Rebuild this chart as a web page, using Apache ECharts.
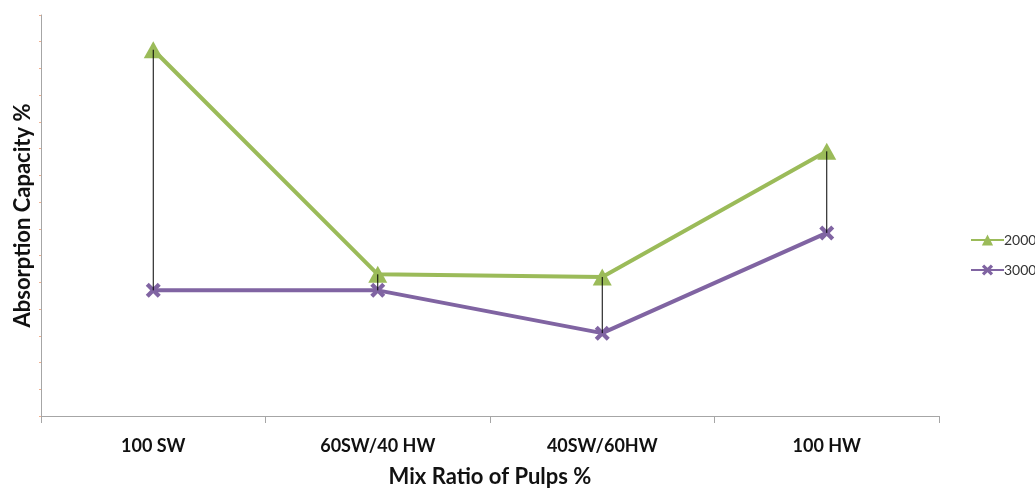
<!DOCTYPE html>
<html><head><meta charset="utf-8">
<script src="https://cdn.jsdelivr.net/npm/echarts@6/dist/echarts.min.js"></script>
<style>html,body{margin:0;padding:0;background:#fff}#c{width:1035px;height:489px}</style>
</head><body><div id="c"></div>
<script>
const categories = ['100 SW', '60SW/40 HW', '40SW/60HW', '100 HW'];
const series2000 = [13.7, 5.3, 5.2, 9.9];
const series3000 = [4.7, 4.7, 3.1, 6.85];
const seriesNames = ['2000', '3000'];
const yMin = 0, yMax = 15, yInterval = 1;

const font = 'Lato, "Open Sans", sans-serif';
const xPath = 'path://M2,0 L5,3 L8,0 L10,2 L7,5 L10,8 L8,10 L5,7 L2,10 L0,8 L3,5 L0,2 Z';

const chart = echarts.init(document.getElementById('c'), null, {renderer: 'canvas'});
chart.setOption({
  animation: false,
  backgroundColor: '#fff',
  grid: {left: 41, right: 96, top: 15, bottom: 73, outerBoundsMode: 'none'},
  legend: {
    orient: 'vertical', left: 965, top: 228, itemGap: 16,
    itemWidth: 33, itemHeight: 14,
    textStyle: {fontFamily: font, fontSize: 14, color: '#333', padding: [0, 0, 0, -5]},
    data: seriesNames
  },
  xAxis: {
    type: 'category', data: categories, boundaryGap: true,
    name: 'Mix Ratio of Pulps %', nameLocation: 'middle', nameGap: 50,
    nameTextStyle: {fontFamily: font, fontSize: 22, fontWeight: 'bold', color: '#111'},
    axisLine: {lineStyle: {color: '#a6a6a6', width: 1}},
    axisTick: {show: true, length: 7, lineStyle: {color: '#a6a6a6'}},
    axisLabel: {fontFamily: font, fontSize: 18, fontWeight: 'bold', color: '#111', margin: 21}
  },
  yAxis: {
    type: 'value', min: yMin, max: yMax, interval: yInterval,
    name: 'Absorption Capacity %', nameLocation: 'middle', nameGap: 7, nameRotate: 90,
    nameTextStyle: {fontFamily: font, fontSize: 22, fontWeight: 'bold', color: '#111'},
    axisLine: {show: true, lineStyle: {color: '#a6a6a6', width: 1}},
    axisTick: {show: true, length: 2, lineStyle: {color: '#f0b090'}},
    axisLabel: {show: false},
    splitLine: {show: false}
  },
  series: [
    {
      name: seriesNames[0], type: 'line', data: series2000,
      symbol: 'triangle', symbolSize: [19, 17],
      lineStyle: {color: '#9bbb59', width: 4},
      itemStyle: {color: '#9bbb59'}, z: 3
    },
    {
      name: seriesNames[1], type: 'line', data: series3000,
      symbol: xPath, symbolSize: 15,
      lineStyle: {color: '#8064a2', width: 4},
      itemStyle: {color: '#8064a2'}, z: 2
    },
    {
      name: 'hilo', type: 'custom', z: 10, silent: true,
      data: categories.map((c, i) => [i, series2000[i], series3000[i]]),
      renderItem: function (params, api) {
        const a = api.coord([api.value(0), api.value(1)]);
        const b = api.coord([api.value(0), api.value(2)]);
        return {type: 'line', shape: {x1: a[0], y1: a[1], x2: b[0], y2: b[1]},
          style: {stroke: '#000', lineWidth: 1}};
      }
    }
  ]
});
</script></body></html>
